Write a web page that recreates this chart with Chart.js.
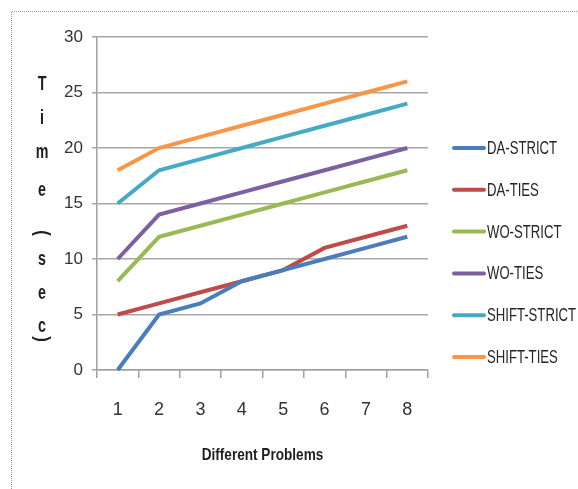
<!DOCTYPE html>
<html>
<head>
<meta charset="utf-8">
<script src="https://cdn.jsdelivr.net/npm/chart.js@4/dist/chart.umd.min.js"></script>
<style>
html,body{margin:0;padding:0;background:#fff;}
#wrap{position:relative;width:578px;height:489px;}
</style>
</head>
<body>
<div id="wrap"><canvas id="c" width="578" height="489"></canvas></div>
<script>
const categories = ['1','2','3','4','5','6','7','8'];
const daStrict    = [0, 5, 6, 8, 9, 10, 11, 12];
const daTies      = [5, 6, 7, 8, 9, 11, 12, 13];
const woStrict    = [8, 12, 13, 14, 15, 16, 17, 18];
const woTies      = [10, 14, 15, 16, 17, 18, 19, 20];
const shiftStrict = [15, 18, 19, 20, 21, 22, 23, 24];
const shiftTies   = [18, 20, 21, 22, 23, 24, 25, 26];
const seriesNames = ['DA-STRICT','DA-TIES','WO-STRICT','WO-TIES','SHIFT-STRICT','SHIFT-TIES'];
const seriesColors = ['#4a7ebb','#be4b48','#98b954','#7d60a0','#46aac5','#f79646'];
const yTitleLetters = ['T','i','m','e','(','s','e','c',')'];
const xTitle = 'Different Problems';

const FONT = '"Liberation Sans", Arial, sans-serif';
const seriesData = [daStrict, daTies, woStrict, woTies, shiftStrict, shiftTies];

function narrowText(ctx, text, x, y, sx) {
  ctx.save();
  ctx.translate(x, y);
  ctx.scale(sx, 1);
  ctx.fillText(text, 0, 0);
  ctx.restore();
}

function drawLetter(ctx, ch, x, y) {
  ctx.save();
  if (ch === '(' || ch === ')') {
    ctx.setTransform(0, 0.8, -1, 0, x, y);
    ctx.fillText(ch, 0, 0);
  } else {
    ctx.setTransform(0.68, 0, 0, 1, x, y);
    ctx.fillText(ch, 0, 1);
  }
  ctx.restore();
}

const frame = {
  id: 'frame',
  beforeDraw(chart) {
    const ctx = chart.ctx;
    ctx.save();
    ctx.fillStyle = '#fff';
    ctx.fillRect(0, 0, chart.width, chart.height);
    ctx.strokeStyle = '#9a9a9a';
    ctx.lineWidth = 1;
    ctx.setLineDash([1, 1]);
    ctx.beginPath();
    ctx.moveTo(11.5, chart.height);
    ctx.lineTo(11.5, 11.5);
    ctx.lineTo(chart.width, 11.5);
    ctx.stroke();
    ctx.restore();
  }
};

const titles = {
  id: 'titles',
  afterDraw(chart) {
    const ctx = chart.ctx;
    const ys = [83, 117, 151, 189, 233, 258, 292, 325, 339];
    ctx.save();
    ctx.fillStyle = '#1e1e1e';
    ctx.font = 'bold 21px ' + FONT;
    ctx.textAlign = 'center';
    ctx.textBaseline = 'middle';
    yTitleLetters.forEach((ch, i) => drawLetter(ctx, ch, 42, ys[i]));
    // x-axis title
    const xs = chart.scales.x;
    ctx.font = 'bold 17px ' + FONT;
    ctx.fillStyle = '#1e1e1e';
    narrowText(ctx, xTitle, (xs.left + xs.right) / 2, 455, 0.8);
    // legend
    ctx.font = '18px ' + FONT;
    ctx.textAlign = 'left';
    chart.data.datasets.forEach((ds, i) => {
      const y = 148 + i * 41.8;
      ctx.strokeStyle = ds.borderColor;
      ctx.lineWidth = 4;
      ctx.lineCap = 'round';
      ctx.beginPath();
      ctx.moveTo(454, y);
      ctx.lineTo(484, y);
      ctx.stroke();
      ctx.fillStyle = '#262626';
      narrowText(ctx, ds.label, 487, y + 1, 0.73);
    });
    ctx.restore();
  }
};

new Chart(document.getElementById('c'), {
  type: 'line',
  data: {
    labels: categories,
    datasets: seriesNames.map((n, i) => ({
      label: n,
      data: seriesData[i],
      borderColor: seriesColors[i],
      backgroundColor: seriesColors[i],
      borderWidth: 4,
      pointRadius: 0,
      tension: 0,
      clip: false
    }))
  },
  options: {
    responsive: false,
    animation: false,
    devicePixelRatio: 1,
    layout: { padding: { top: 37, right: 150, left: 0, bottom: 0 } },
    plugins: { legend: { display: false }, tooltip: { enabled: false } },
    scales: {
      x: {
        type: 'category',
        offset: true,
        afterFit(s) { s.height = 119; },
        grid: { offset: true, drawOnChartArea: false, tickLength: 8, color: '#a0a0a0', lineWidth: 1.5 },
        border: { color: '#a0a0a0', width: 1.5 },
        ticks: { color: '#333', font: { family: FONT, size: 18 }, padding: 21, maxRotation: 0 },
        title: { display: false }
      },
      y: {
        min: 0, max: 30,
        afterFit(s) { s.width = 97; },
        ticks: { stepSize: 5, color: '#333', font: { family: FONT, size: 17 }, padding: 9 },
        grid: { color: '#a6a6a6', lineWidth: 1.5, tickLength: 5 },
        border: { color: '#a0a0a0', width: 1.5 }
      }
    }
  },
  plugins: [frame, titles]
});
</script>
</body>
</html>
